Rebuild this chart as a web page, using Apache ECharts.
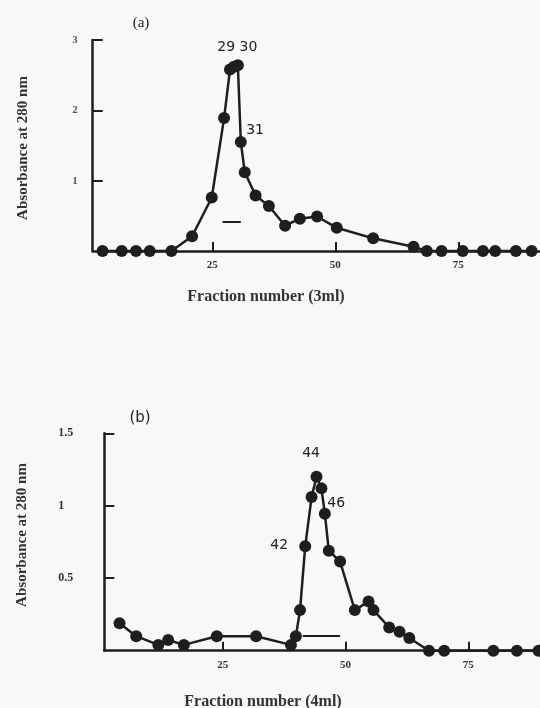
<!DOCTYPE html>
<html><head><meta charset="utf-8">
<script src="https://cdn.jsdelivr.net/npm/echarts@6/dist/echarts.min.js"></script>
<style>html,body{margin:0;padding:0;background:#f8f8f8}#c{width:540px;height:708px}</style>
</head><body><div id="c"></div>
<script>
// Tick labels
const xTicks = [25, 50, 75];
const yTicksA = [1, 2, 3];
const yTicksB = [0.5, 1, 1.5];
// Panel (a): fraction number (3 ml) vs absorbance at 280 nm
const fractionA = [2.7, 6.6, 9.5, 12.3, 16.7, 20.9, 24.9, 27.4, 28.6, 29.4, 30.2, 30.8, 31.6, 33.8, 36.5, 39.8, 42.8, 46.3, 50.3, 57.7, 65.9, 68.6, 71.6, 75.9, 80.0, 82.5, 86.7, 89.9];
const absA      = [0, 0, 0, 0, 0, 0.21, 0.76, 1.89, 2.58, 2.62, 2.64, 1.55, 1.12, 0.79, 0.64, 0.36, 0.46, 0.49, 0.33, 0.18, 0.06, 0, 0, 0, 0, 0, 0, 0];
// Panel (b): fraction number (4 ml) vs absorbance at 280 nm
const fractionB = [4.0, 7.4, 11.9, 13.9, 17.1, 23.8, 31.8, 38.9, 39.9, 40.75, 41.8, 43.1, 44.1, 45.1, 45.8, 46.6, 48.9, 51.9, 54.7, 55.7, 58.9, 61.0, 63.0, 67.0, 70.1, 80.1, 84.9, 89.3];
const absB      = [0.19, 0.10, 0.04, 0.074, 0.04, 0.10, 0.10, 0.04, 0.10, 0.28, 0.72, 1.06, 1.20, 1.12, 0.945, 0.69, 0.615, 0.28, 0.34, 0.28, 0.16, 0.13, 0.088, 0, 0, 0, 0, 0];
// Annotations
const annA = [{ text: '29 30', x: 30.1, y: 2.9 }, { text: '31', x: 33.7, y: 1.71 }];
const annB = [{ text: '44', x: 43.0, y: 1.364 }, { text: '46', x: 48.1, y: 1.019 }, { text: '42', x: 36.5, y: 0.73 }];
const barA = [[27.1, 0.42], [30.8, 0.42]];
const barB = [[41.3, 0.104], [48.9, 0.104]];

const ink = '#1e1e1e';
const serif = '"Liberation Serif", "DejaVu Serif", serif';
const sans = '"DejaVu Sans", sans-serif';

function zip(a, b) { return a.map((v, i) => [v, b[i]]); }

function xAx(gi, min, max) {
  return {
    type: 'value', gridIndex: gi, min: min, max: max,
    axisLine: { show: true, lineStyle: { color: ink, width: 2.5 } },
    axisTick: { show: true, inside: true, length: 9, customValues: xTicks, lineStyle: { color: ink, width: 2 } },
    axisLabel: { customValues: xTicks, color: '#333', fontFamily: serif, fontWeight: 'bold', fontSize: 11, margin: 9 },
    splitLine: { show: false }
  };
}
function yAx(gi, max, ticks, labelOpt) {
  return {
    type: 'value', gridIndex: gi, min: 0, max: max,
    axisLine: { show: true, lineStyle: { color: ink, width: 2.5 } },
    axisTick: { show: true, inside: true, length: 10, customValues: ticks, lineStyle: { color: ink, width: 2 } },
    axisLabel: Object.assign({ customValues: ticks, fontFamily: serif, fontWeight: 'bold' }, labelOpt),
    splitLine: { show: false }
  };
}
function ser(gi, xs, ys, ann, bar) {
  return {
    type: 'line', xAxisIndex: gi, yAxisIndex: gi, data: zip(xs, ys),
    symbol: 'circle', symbolSize: 12, clip: false,
    itemStyle: { color: ink },
    lineStyle: { color: ink, width: 2.5 },
    markPoint: {
      symbol: 'circle', symbolSize: 0, silent: true,
      label: { show: true, position: 'inside', color: '#222', fontFamily: sans, fontSize: 14, formatter: p => p.name },
      data: ann.map(a => ({ name: a.text, coord: [a.x, a.y] }))
    },
    markLine: {
      symbol: 'none', silent: true, label: { show: false },
      lineStyle: { color: ink, width: 2, type: 'solid' },
      data: [[{ coord: bar[0] }, { coord: bar[1] }]]
    }
  };
}

const chart = echarts.init(document.getElementById('c'), null, { renderer: 'canvas' });
chart.setOption({
  backgroundColor: '#f8f8f8',
  animation: false,
  grid: [
    { left: 92.7, top: 40, width: 447.3, height: 211 },
    { left: 104.3, top: 433.3, width: 435.7, height: 217.4 }
  ],
  xAxis: [xAx(0, 0.7, 91.6), xAx(1, 0.9, 89.6)],
  yAxis: [
    yAx(0, 3, yTicksA, { color: '#555', fontSize: 11, margin: 15 }),
    yAx(1, 1.5, yTicksB, { color: '#333', fontSize: 12, align: 'left', margin: 46 })
  ],
  series: [ser(0, fractionA, absA, annA, barA), ser(1, fractionB, absB, annB, barB)],
  graphic: [
    { type: 'text', x: 141, y: 23, style: { text: '(a)', font: '15px ' + serif, fill: '#222', textAlign: 'center', textVerticalAlign: 'middle' } },
    { type: 'text', x: 140, y: 418, style: { text: '(b)', font: '15px ' + sans, fill: '#222', textAlign: 'center', textVerticalAlign: 'middle' } },
    { type: 'text', x: 23, y: 148, rotation: Math.PI / 2, style: { text: 'Absorbance at 280 nm', font: 'bold 15px ' + serif, fill: '#333', textAlign: 'center', textVerticalAlign: 'middle' } },
    { type: 'text', x: 22, y: 535, rotation: Math.PI / 2, style: { text: 'Absorbance at 280 nm', font: 'bold 15px ' + serif, fill: '#333', textAlign: 'center', textVerticalAlign: 'middle' } },
    { type: 'text', x: 266, y: 297, style: { text: 'Fraction number (3ml)', font: 'bold 16px ' + serif, fill: '#333', textAlign: 'center', textVerticalAlign: 'middle' } },
    { type: 'text', x: 263, y: 702, style: { text: 'Fraction number (4ml)', font: 'bold 16px ' + serif, fill: '#333', textAlign: 'center', textVerticalAlign: 'middle' } }
  ]
});
</script>
</body></html>
